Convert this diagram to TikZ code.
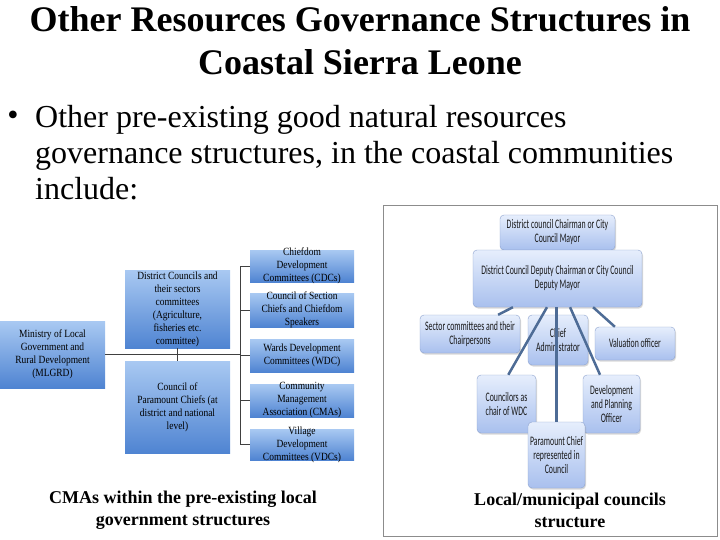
\documentclass[tikz,border=0pt]{standalone}
\usepackage{fontspec}
\setmainfont{Liberation Serif}
\newfontfamily\boxfont[FakeStretch=0.86]{Liberation Serif}
\newfontfamily\narrowsf[FakeStretch=0.6]{Carlito}
\usetikzlibrary{positioning,calc,shadows}
\tikzset{>=stealth}
\definecolor{lboxtop}{HTML}{A9C9F2}
\definecolor{lboxbot}{HTML}{4F84D2}
\definecolor{rboxtop}{HTML}{E6EEFC}
\definecolor{rboxbot}{HTML}{A9C0EE}
\definecolor{rboxline}{HTML}{8DA3CF}
\definecolor{rlinkcol}{HTML}{4E6C96}
\tikzset{
  lbox/.style={rectangle, top color=lboxtop, bottom color=lboxbot, minimum width=105pt, inner sep=0pt},
  ltext/.style={font=\boxfont\fontsize{11}{13}\selectfont, align=center, inner sep=0pt},
  conn/.style={draw=black!75, line width=0.6pt},
  rbox/.style={rectangle, rounded corners=4pt, top color=rboxtop, bottom color=rboxbot, draw=rboxline,
    drop shadow={shadow xshift=1pt, shadow yshift=-1.5pt, opacity=0.3},
    font=\narrowsf\fontsize{13}{14}\selectfont, text=black!90, align=center, inner sep=0pt},
  rlink/.style={draw=rlinkcol, line width=2.5pt},
  caption/.style={font=\fontsize{18}{22}\selectfont\bfseries, align=center}
}
\begin{document}
\begin{tikzpicture}[x=1pt, y=-1pt]
\useasboundingbox (0,0) rectangle (720,540);
% heading and bullet
\node[font=\fontsize{36}{43}\selectfont\bfseries, align=center, inner sep=0pt] (title) at (360,41)
  {Other Resources Governance Structures in\\Coastal Sierra Leone};
\node[font=\fontsize{32}{36}\selectfont, inner sep=0pt] (dot) at (13,118) {\textbullet};
\node[font=\fontsize{32}{36}\selectfont, align=left, anchor=north west, inner sep=0pt] (intro) at (35,105)
  {Other pre-existing good natural resources\\governance structures, in the coastal communities\\include:};

% left chart
\node[lbox, minimum height=67pt, label={[ltext]center:{Ministry of Local\\Government and\\Rural Development\\(MLGRD)}}] (mlgrd) at (52.5,354.5) {};
\node[lbox, minimum height=78pt, label={[ltext]center:{District Councils and\\their sectors\\committees\\(Agriculture,\\fisheries etc.\\committee)}}] (dist) at (177.5,309) {};
\node[lbox, minimum height=92pt, label={[ltext]center:{Council of\\Paramount Chiefs (at\\district and national\\level)}}] (cpc) at (177.5,407) {};
\node[lbox, minimum width=104pt, minimum height=32pt, label={[ltext]center:{Chiefdom\\Development\\Committees (CDCs)}}] (cdc) at (302,266) {};
\node[lbox, minimum width=104pt, minimum height=34pt, label={[ltext]center:{Council of Section\\Chiefs and Chiefdom\\Speakers}}] (csc) at (302,310) {};
\node[lbox, minimum width=104pt, minimum height=33pt, label={[ltext]center:{Wards Development\\Committees (WDC)}}] (wdc) at (302,355.5) {};
\node[lbox, minimum width=104pt, minimum height=33pt, label={[ltext]center:{Community\\Management\\Association (CMAs)}}] (cma) at (302,400.5) {};
\node[lbox, minimum width=104pt, minimum height=31pt, label={[ltext]center:{Village\\Development\\Committees (VDCs)}}] (vdc) at (302,444.5) {};
\coordinate (trunk) at (240,355);
\draw[conn] (mlgrd.east) -- (mlgrd.east -| trunk);
\draw[conn] (dist.south) -- (cpc.north);
\draw[conn] (trunk |- cdc.west) -- (trunk |- vdc.west);
\foreach \b in {cdc,csc,wdc,cma,vdc}
  \draw[conn] (trunk |- \b.west) -- (\b.west);

% right chart
\draw[black!45, fill=white] (383,205) rectangle (717,536);
\node[rbox, minimum width=115pt, minimum height=35pt] (mayor) at (557.5,232.5) {District council Chairman or City\\Council Mayor};
\node[rbox, minimum width=169pt, minimum height=57pt] (deputy) at (557.5,278.5) {District Council Deputy Chairman or City Council\\Deputy Mayor};
\node[rbox, minimum width=100pt, minimum height=38pt] (sector) at (470,334) {Sector committees and their\\Chairpersons};
\node[rbox, minimum width=60pt, minimum height=50pt] (chiefadm) at (558,340) {Chief\\Administrator};
\node[rbox, minimum width=80pt, minimum height=33pt] (valuation) at (635,343.5) {Valuation officer};
\node[rbox, minimum width=59pt, minimum height=58pt] (councilors) at (506.5,404) {Councilors as\\chair of WDC};
\node[rbox, minimum width=57pt, minimum height=58pt] (devplan) at (611.5,404) {Development\\and Planning\\Officer};
\node[rbox, minimum width=57pt, minimum height=66pt] (paramount) at (556.5,455) {Paramount Chief\\represented in\\Council};
\draw[rlink] ($(deputy.south west)!0.237!(deputy.south east)$) -- ($(sector.north west)!0.78!(sector.north east)$);
\draw[rlink] ($(deputy.south west)!0.438!(deputy.south east)$) -- ($(councilors.north west)!0.53!(councilors.north east)$);
\draw[rlink] (paramount.north) -- (paramount.north |- deputy.south);
\draw[rlink] ($(deputy.south west)!0.574!(deputy.south east)$) -- ($(devplan.north west)!0.3!(devplan.north east)$);
\draw[rlink] ($(deputy.south west)!0.71!(deputy.south east)$) -- ($(valuation.north west)!0.25!(valuation.north east)$);

% captions
\node[caption] (capleft) at (183,510) {CMAs within the pre-existing local\\government structures};
\node[caption] (capright) at (570,510) {Local/municipal councils\\structure};
\end{tikzpicture}
\end{document}
